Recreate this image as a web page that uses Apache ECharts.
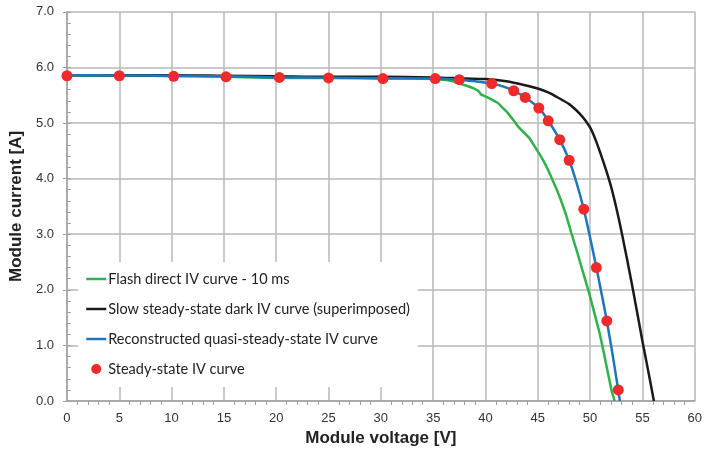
<!DOCTYPE html>
<html>
<head>
<meta charset="utf-8">
<script src="https://cdn.jsdelivr.net/npm/echarts@6/dist/echarts.min.js"></script>
<style>
  html, body { margin: 0; padding: 0; background: #fff; }
  #chart { width: 712px; height: 452px; }
</style>
</head>
<body>
<div id="chart"></div>
<script>
// series names
const seriesNames = [
  'Flash direct IV curve - 10 ms',
  'Slow steady-state dark IV curve (superimposed)',
  'Reconstructed quasi-steady-state IV curve',
  'Steady-state IV curve'
]

// [voltage V, current A]
const flashCurve = [
  [0, 5.86], [2, 5.86], [5, 5.85], [8, 5.85], [10, 5.84], [12, 5.84], [15, 5.83], [18, 5.82],
  [20, 5.81], [22, 5.81], [25, 5.81], [28, 5.81], [30, 5.80], [33, 5.80], [35, 5.79], [36, 5.78],
  [36.9, 5.75], [37.5, 5.71], [38.2, 5.67], [38.8, 5.63], [39.3, 5.58], [39.6, 5.51], [40.2, 5.46],
  [40.7, 5.41], [41.2, 5.36], [41.6, 5.28], [42.0, 5.21], [42.6, 5.07], [43.1, 4.94], [43.6, 4.84],
  [44.2, 4.73], [44.7, 4.58], [45.2, 4.43], [45.6, 4.30], [46.0, 4.15], [46.4, 3.98], [46.8, 3.81],
  [47.2, 3.62], [47.7, 3.35], [48.2, 3.03], [48.7, 2.72], [49.3, 2.33], [49.9, 1.95], [50.4, 1.59],
  [50.9, 1.23], [51.3, 0.88], [51.7, 0.51], [52.1, 0.15], [52.35, 0]
]

const darkCurve = [
  [0, 5.86], [5, 5.86], [10, 5.86], [15, 5.85], [20, 5.84], [25, 5.83], [30, 5.83], [35, 5.82],
  [38, 5.80], [40, 5.79], [42, 5.75], [44, 5.67], [45, 5.62], [46, 5.55], [47, 5.45], [48, 5.34],
  [48.5, 5.26], [49, 5.17], [49.5, 5.06], [50, 4.92], [50.5, 4.71], [51, 4.45], [51.5, 4.17],
  [52, 3.86], [52.5, 3.48], [53, 3.05], [54, 2.10], [55, 1.08], [55.6, 0.5], [56.1, 0]
]

const reconCurve = [
  [0, 5.86], [5, 5.855], [10, 5.85], [15, 5.84], [20, 5.82], [25, 5.815], [30, 5.805], [35, 5.80],
  [37.5, 5.78], [39, 5.75], [40.6, 5.71], [41.8, 5.65], [42.7, 5.58], [43.8, 5.46], [45.1, 5.27],
  [46.0, 5.04], [47.1, 4.70], [48.0, 4.33], [48.7, 3.93], [49.4, 3.45], [50.0, 2.94], [50.6, 2.40],
  [51.1, 1.93], [51.6, 1.44], [52.2, 0.78], [52.85, 0]
]

const steadyPoints = [
  [0, 5.85], [5.0, 5.85], [10.2, 5.84], [15.2, 5.83], [20.3, 5.82], [25.0, 5.81], [30.2, 5.80],
  [35.2, 5.80], [37.5, 5.78], [40.6, 5.71], [42.7, 5.58], [43.8, 5.46], [45.1, 5.27], [46.0, 5.04],
  [47.1, 4.70], [48.0, 4.33], [49.4, 3.45], [50.6, 2.40], [51.6, 1.44], [52.7, 0.20]
]

const gridColor = '#b8b8b8'
const textColor = '#333333'

const chart = echarts.init(document.getElementById('chart'))

// legend: lines without the symbol dot
const legendData = seriesNames.map((n, i) => i < 3 ? { name: n, itemStyle: { opacity: 0 } } : { name: n })

const option = {
  animation: false,
  backgroundColor: '#fff',
  grid: { left: 66.7, right: 17.3, top: 11.8, bottom: 50.5, containLabel: false },
  legend: {
    orient: 'vertical',
    left: 78,
    top: 262,
    padding: [9, 8, 10, 7],
    itemWidth: 20,
    itemHeight: 10,
    itemGap: 14,
    backgroundColor: '#fff',
    data: legendData,
    lineStyle: { width: 2.5 },
    textStyle: { fontFamily: 'Lato', fontSize: 14.5, lineHeight: 16, color: '#222', padding: [0, 0, 0, -3] }
  },
  xAxis: {
    type: 'value',
    min: 0, max: 60, interval: 5,
    name: 'Module voltage [V]',
    nameLocation: 'middle',
    nameGap: 29,
    nameTextStyle: { fontFamily: 'Liberation Sans', fontSize: 17, fontWeight: 'bold', color: '#222' },
    axisLine: { lineStyle: { color: '#a0a0a0', width: 1.5 } },
    axisTick: { show: false },
    minorTick: { show: true, splitNumber: 5, length: 4, lineStyle: { color: '#a0a0a0', width: 1 } },
    axisLabel: { fontFamily: 'Liberation Sans', fontSize: 13, color: textColor, margin: 11 },
    splitLine: { lineStyle: { color: gridColor, width: 1.5 } }
  },
  yAxis: [{
    type: 'value',
    min: 0, max: 7, interval: 1,
    name: 'Module current [A]',
    nameLocation: 'middle',
    nameGap: 38,
    nameTextStyle: { fontFamily: 'Liberation Sans', fontSize: 17, fontWeight: 'bold', color: '#222' },
    axisLine: { show: true, lineStyle: { color: '#a0a0a0', width: 1.5 } },
    axisTick: { show: true, inside: true, length: 4, lineStyle: { color: '#a0a0a0' } },
    minorTick: { show: true, splitNumber: 5, length: 4, lineStyle: { color: '#a0a0a0', width: 1 } },
    axisLabel: { fontFamily: 'Liberation Sans', fontSize: 13, color: textColor, margin: 13, formatter: v => v.toFixed(1) },
    splitLine: { lineStyle: { color: gridColor, width: 1.5 } }
  }, {
    // outward major ticks only
    type: 'value',
    position: 'left',
    min: 0, max: 7, interval: 1,
    axisLine: { show: false },
    axisTick: { show: true, inside: false, length: 4, lineStyle: { color: '#a0a0a0' } },
    axisLabel: { show: false },
    splitLine: { show: false }
  }],
  series: [
    {
      name: seriesNames[0],
      type: 'line',
      data: flashCurve,
      symbol: 'none',
      lineStyle: { color: '#2fb24b', width: 2.5 },
      itemStyle: { color: '#2fb24b' },
      z: 2
    },
    {
      name: seriesNames[1],
      type: 'line',
      data: darkCurve,
      symbol: 'none',
      smooth: 0.3,
      lineStyle: { color: '#1a1a1a', width: 2.5 },
      itemStyle: { color: '#1a1a1a' },
      z: 3
    },
    {
      name: seriesNames[2],
      type: 'line',
      data: reconCurve,
      symbol: 'none',
      smooth: 0.3,
      lineStyle: { color: '#1b76bc', width: 2.5 },
      itemStyle: { color: '#1b76bc' },
      z: 4
    },
    {
      name: seriesNames[3],
      type: 'scatter',
      data: steadyPoints,
      symbol: 'circle',
      symbolSize: 11,
      itemStyle: { color: '#ee2a2a', opacity: 1 },
      z: 5
    }
  ]
}

chart.setOption(option)
</script>
</body>
</html>
